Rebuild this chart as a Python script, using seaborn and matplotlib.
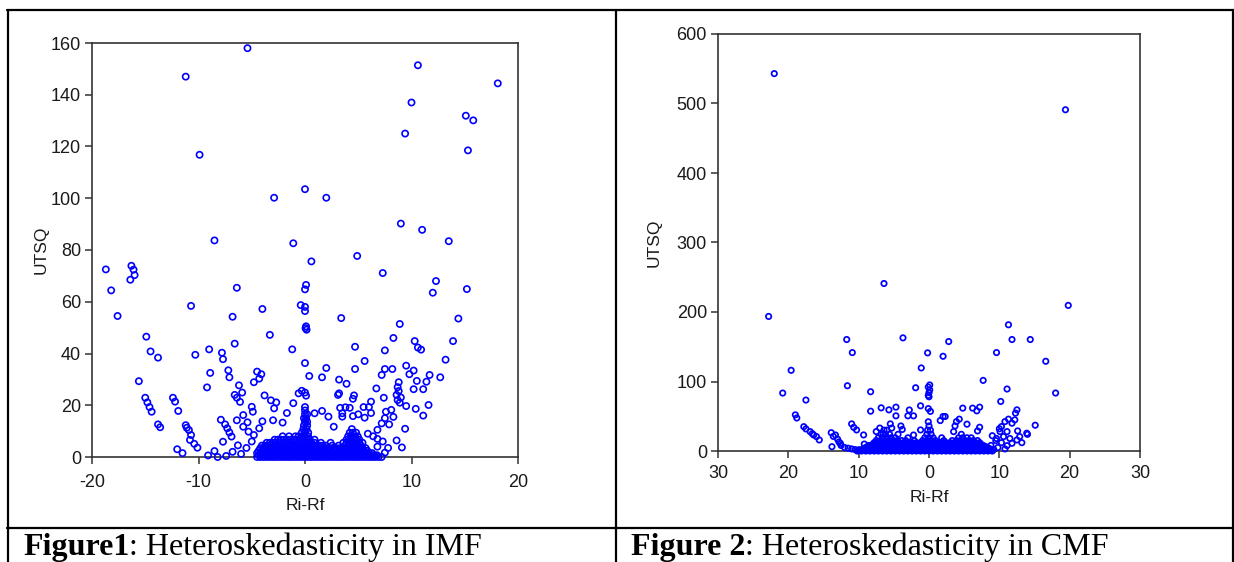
import matplotlib
matplotlib.use("Agg")
import matplotlib.pyplot as plt
from matplotlib.lines import Line2D
from matplotlib.ticker import FuncFormatter
import seaborn as sns

# ─── Data ─────────────────────────────────────────────────────────────────────
# Figure 1 (IMF): scattered points
imf_points = [
    (-5.4, 158.0), (-11.2, 147.0), (10.6, 151.4), (18.1, 144.4), (10.0, 137.0),
    (15.1, 131.9), (15.8, 130.1), (9.4, 125.0), (15.3, 118.5), (-9.9, 116.8),
    (0.0, 103.5), (-2.9, 100.2), (2.0, 100.2), (9.0, 90.2), (11.0, 87.8),
    (-8.5, 83.7), (-1.1, 82.6), (13.5, 83.4), (0.6, 75.6), (4.9, 77.7),
    (7.3, 71.1), (-18.7, 72.5), (-16.3, 73.9), (-16.1, 72.4), (-16.0, 70.3),
    (-16.4, 68.5), (-18.2, 64.4), (12.3, 68.0), (12.0, 63.5), (15.2, 64.9),
    (-6.4, 65.4), (0.1, 66.5), (0.0, 64.8), (-17.6, 54.5), (-10.7, 58.4),
    (-6.8, 54.2), (-4.0, 57.2), (-0.4, 58.7), (0.0, 58.0), (0.0, 56.4),
    (0.1, 50.5), (0.05, 49.8), (0.15, 49.2), (3.4, 53.7), (8.9, 51.4),
    (14.4, 53.5), (-14.9, 46.5), (-3.3, 47.2), (-6.6, 43.8), (8.3, 46.0),
    (10.3, 44.8), (13.9, 44.8), (4.7, 42.6), (7.5, 41.2), (10.6, 42.3),
    (10.9, 41.5), (-14.5, 40.8), (-9.0, 41.6), (-7.8, 40.3), (-1.2, 41.6),
    (-10.3, 39.5), (-13.8, 38.4), (-7.7, 37.8),
    (-15.6, 29.3), (-8.9, 32.5), (-7.2, 33.5), (-7.1, 30.8), (-9.2, 26.9),
    (-4.5, 33.0), (-4.1, 32.0), (-4.3, 30.3), (-4.8, 28.9), (-6.2, 27.7),
    (-5.9, 24.9), (-6.6, 24.0), (-6.4, 22.9), (-6.1, 21.3), (-3.8, 23.8),
    (-15.0, 22.9), (-14.8, 21.1), (-14.6, 19.3), (-14.4, 17.5), (-12.4, 22.9),
    (-12.2, 21.4), (-11.9, 17.8), (-13.8, 12.6), (-13.6, 11.5), (-11.2, 12.3),
    (-11.1, 11.3), (-10.9, 10.4), (-10.7, 8.5), (-10.8, 6.6), (-10.4, 5.1),
    (-10.1, 3.6), (-12.0, 3.0), (-11.5, 1.5), (-7.9, 14.4), (-7.5, 12.6),
    (-7.3, 11.1), (-7.1, 9.5), (-6.9, 7.9), (-7.7, 5.9), (-8.5, 2.3),
    (-9.1, 0.6), (-8.2, 0.0), (-7.4, 0.4), (-6.4, 14.2), (-5.8, 16.2),
    (-5.0, 19.4), (-4.9, 17.5), (-5.4, 13.4), (-5.8, 11.7), (-3.2, 21.9),
    (-2.7, 21.1), (-2.9, 18.8), (-3.0, 14.2), (-4.0, 13.8), (-4.3, 11.1),
    (-1.7, 17.0), (-1.1, 20.8), (-2.1, 13.3), (-0.6, 24.6),
    (0.0, 36.3), (5.6, 37.1), (13.2, 37.6), (2.0, 34.4), (4.7, 34.0),
    (7.5, 34.0), (8.2, 34.0), (9.5, 35.3), (10.2, 33.4), (9.8, 32.0),
    (0.4, 31.3), (1.6, 30.8), (3.2, 29.9), (3.9, 28.3), (7.2, 31.7),
    (10.5, 29.4), (11.4, 29.1), (11.7, 31.7), (12.7, 30.8), (8.8, 28.9),
    (6.7, 26.5), (8.7, 27.0), (8.8, 25.5), (8.6, 24.0), (9.0, 23.0),
    (8.7, 22.0), (8.9, 21.0), (10.2, 26.2), (11.1, 26.2), (-0.3, 25.6),
    (0.0, 24.9), (0.1, 23.7), (3.1, 24.0), (3.2, 24.6), (4.6, 23.8),
    (4.5, 22.5), (7.4, 22.9), (9.5, 19.7), (10.4, 18.6), (11.6, 20.1),
    (0.0, 19.3), (0.9, 16.9), (1.6, 17.8), (2.2, 15.6), (3.3, 19.0),
    (3.8, 19.2), (4.2, 19.0), (3.5, 16.9), (3.5, 15.6), (5.5, 19.3),
    (6.0, 19.3), (6.2, 21.4), (4.5, 15.8), (5.0, 16.5), (5.6, 15.2),
    (6.2, 17.0), (7.6, 17.5), (8.1, 18.2), (8.3, 15.5), (7.5, 15.0),
    (7.2, 13.0), (7.9, 12.6), (9.4, 10.9), (11.1, 16.0), (2.7, 11.7),
    (8.6, 6.4), (9.1, 3.7), (6.8, 4.0), (6.8, 7.0), (7.5, 1.7),
    (-5.0, 6.0), (-5.5, 3.5), (-6.0, 1.2), (-4.8, 8.5), (-5.3, 9.8),
    (-6.3, 4.5), (-6.8, 2.0), (5.9, 9.0), (6.4, 8.0), (6.8, 10.5),
    (7.3, 6.0), (7.8, 3.5), (6.5, 0.5),
]

# Figure 1 (IMF): solid cluster near the origin, row by row {UTSQ: [Ri-Rf, ...]}
imf_rows = {
    0.0: [-4.5, -4.2, -3.9, -3.6, -3.3, -3.0, -2.7, -2.4, -2.1, -1.8, -1.5,
          -1.2, -0.9, -0.6, -0.3, 0.0, 0.3, 0.6, 0.9, 1.2, 1.5, 1.8, 2.1, 2.4,
          2.7, 3.0, 3.3, 3.6, 3.9, 4.2, 4.5, 4.8, 5.1, 5.4, 5.7, 6.0, 6.3, 6.6,
          6.9, 7.2],
    0.7: [-4.35, -4.05, -3.75, -3.45, -3.15, -2.85, -2.55, -2.25, -1.95, -1.65,
          -1.35, -1.05, -0.75, -0.45, -0.15, 0.15, 0.45, 0.75, 1.05, 1.35, 1.65,
          1.95, 2.25, 2.55, 2.85, 3.15, 3.45, 3.75, 4.05, 4.35, 4.65, 4.95,
          5.25, 5.55, 5.85, 6.15, 6.45, 6.75],
    1.5: [-4.5, -4.2, -3.9, -3.6, -3.3, -3.0, -2.7, -2.4, -2.1, -1.8, -1.5,
          -1.2, -0.9, -0.6, -0.3, 0.0, 0.3, 0.6, 0.9, 1.2, 1.5, 1.8, 2.1, 2.4,
          2.7, 3.0, 3.3, 3.6, 3.9, 4.2, 4.5, 4.8, 5.1, 5.4, 5.7, 6.0, 6.3],
    2.4: [-4.35, -4.05, -3.75, -3.45, -3.15, -2.85, -2.55, -2.25, -1.95, -1.65,
          -1.35, -1.05, -0.75, -0.45, -0.15, 0.15, 0.45, 0.75, 1.05, 1.35, 1.65,
          1.95, 2.25, 2.55, 2.85, 3.15, 3.45, 3.75, 4.05, 4.35, 4.65, 4.95,
          5.25, 5.55, 5.85],
    3.4: [-4.2, -3.9, -3.6, -3.3, -3.0, -2.7, -2.4, -2.1, -1.8, -1.5, -1.2,
          -0.9, -0.6, -0.3, 0.0, 0.3, 0.6, 0.9, 1.2, 1.5, 1.8, 2.1, 2.4, 2.7,
          3.0, 3.3, 3.6, 3.9, 4.2, 4.5, 4.8, 5.1, 5.4, 5.7],
    4.4: [-4.05, -3.75, -3.45, -3.15, -2.85, -2.55, -2.25, -1.95, -1.65, -1.35,
          -1.05, -0.75, -0.45, -0.15, 0.15, 0.45, 0.75, 1.05, 1.35, 1.65, 1.95,
          2.55, 3.15, 3.75, 4.05, 4.35, 4.65, 4.95, 5.25],
    5.5: [-3.6, -3.3, -3.0, -2.7, -2.4, -2.1, -1.8, -1.5, -1.2, -0.9, -0.6,
          -0.3, 0.0, 0.3, 0.6, 0.9, 1.5, 2.4, 3.6, 3.9, 4.2, 4.5, 4.8, 5.1, 5.4],
    6.7: [-2.85, -2.55, -2.25, -1.95, -1.65, -1.35, -1.05, -0.75, -0.45, -0.15,
          0.15, 0.45, 0.9, 3.9, 4.2, 4.5, 4.8, 5.1],
    8.0: [-2.1, -1.5, -0.9, -0.6, -0.3, 0.0, 0.3, 4.05, 4.35, 4.65, 4.95],
    9.4: [-0.3, 0.0, 0.3, 4.2, 4.5, 4.8],
    10.8: [-0.15, 0.15, 4.4],
    12.2: [-0.1, 0.2],
    13.6: [0.0, 0.2],
    15.0: [-0.1, 0.1],
    16.5: [0.0, 0.2],
    18.0: [0.0],
}

# Figure 2 (CMF): scattered points
cmf_points = [
    (-22.0, 543.0), (19.4, 491.0), (-6.4, 241.0), (-22.8, 193.6), (19.8, 209.5),
    (11.3, 181.6), (-11.7, 160.4), (-3.7, 162.8), (2.8, 157.5), (11.8, 160.4),
    (14.4, 160.4), (-10.9, 141.6), (-0.2, 141.2), (2.0, 136.3), (9.6, 141.6),
    (16.6, 129.1), (-19.6, 116.1), (-1.1, 119.5), (7.7, 101.6), (-20.8, 83.4),
    (-11.6, 93.9), (-8.3, 85.3), (-1.9, 91.0), (11.1, 89.2), (18.0, 83.4),
    (-17.5, 73.3), (10.2, 71.3), (-0.1, 80.0), (0.0, 84.0), (0.1, 88.0),
    (-0.1, 92.0), (0.1, 95.0), (0.0, 78.0),
    (-8.3, 57.3), (-6.8, 62.1), (-5.7, 59.2), (-4.7, 63.1), (-4.7, 50.6),
    (-2.8, 59.0), (-3.0, 50.6), (-2.2, 50.6), (-1.2, 65.0), (-0.1, 61.0),
    (0.2, 57.0), (-5.5, 39.0), (-5.3, 33.0), (-4.0, 36.0), (-3.8, 31.0),
    (-1.2, 30.3), (-2.2, 23.0), (-7.5, 28.0), (-7.0, 33.0), (-6.5, 25.0),
    (-6.0, 30.0),
    (-19.0, 52.0), (-18.8, 47.5), (-17.8, 35.0), (-17.5, 31.8), (-16.9, 27.9),
    (-16.6, 25.0), (-16.4, 23.1), (-16.0, 20.7), (-15.6, 15.9), (-13.9, 26.4),
    (-13.6, 21.0), (-13.3, 23.0), (-13.0, 17.0), (-12.8, 13.0), (-12.6, 11.0),
    (-13.8, 6.2), (-12.5, 8.0), (-12.0, 5.0), (-11.5, 4.0), (-11.0, 3.0),
    (-10.5, 2.0), (-10.0, 1.5), (-9.5, 2.0), (-11.0, 39.0), (-10.7, 34.0),
    (-10.3, 30.3), (-9.3, 23.1), (-9.2, 10.0), (-9.0, 5.0), (-8.6, 8.0),
    (1.6, 43.8), (2.0, 49.6), (2.3, 49.6), (3.9, 42.3), (4.3, 45.8),
    (3.7, 36.1), (3.5, 27.9), (4.8, 61.7), (5.4, 38.6), (6.2, 61.7),
    (7.2, 63.1), (6.8, 57.8), (7.2, 34.2), (6.9, 28.9), (12.5, 59.2),
    (12.3, 54.5), (15.1, 37.1), (13.9, 25.6), (12.9, 20.7), (12.5, 15.9),
    (12.6, 28.9), (10.3, 35.1), (10.8, 42.3), (11.3, 45.8), (11.8, 40.0),
    (12.2, 44.8), (11.1, 27.9), (10.6, 20.7), (10.1, 27.9), (11.1, 7.7),
    (11.8, 11.1), (9.0, 22.0), (9.5, 15.0), (8.8, 8.0), (9.8, 5.0),
    (10.3, 12.0), (9.2, 2.0), (8.5, 3.0), (10.8, 3.0), (11.5, 18.0),
    (13.2, 12.0), (14.0, 24.0), (10.0, 32.0), (9.6, 18.0),
]

# Figure 2 (CMF): solid cluster near the origin, row by row
cmf_rows = {
    0: [-10.2, -9.6, -9.0, -8.4, -7.8, -7.2, -6.6, -6.0, -5.4, -4.8, -4.2,
        -3.6, -3.0, -2.4, -1.8, -1.2, -0.6, 0.0, 0.6, 1.2, 1.8, 2.4, 3.0, 3.6,
        4.2, 4.8, 5.4, 6.0, 6.6, 7.2, 7.8, 8.4, 9.0],
    1.5: [-9.9, -9.3, -8.7, -8.1, -7.5, -6.9, -6.3, -5.7, -5.1, -4.5, -3.9,
          -3.3, -2.7, -2.1, -1.5, -0.9, -0.3, 0.3, 0.9, 1.5, 2.1, 2.7, 3.3,
          3.9, 4.5, 5.1, 5.7, 6.3, 6.9, 7.5, 8.1, 8.7],
    3: [-9.3, -8.7, -8.1, -7.5, -6.9, -6.3, -5.7, -5.1, -4.5, -3.9, -3.3,
        -2.7, -2.1, -1.5, -0.9, -0.3, 0.3, 0.9, 1.5, 2.1, 2.7, 3.3, 3.9, 4.5,
        5.1, 5.7, 6.3, 6.9, 7.5, 8.1, 8.7],
    4.5: [-9.0, -8.4, -7.8, -7.2, -6.6, -6.0, -5.4, -4.8, -4.2, -3.6, -3.0,
          -2.4, -1.8, -1.2, -0.6, 0.0, 0.6, 1.2, 1.8, 2.4, 3.0, 3.6, 4.2, 4.8,
          5.4, 6.0, 6.6, 7.2, 7.8, 8.4],
    6: [-8.7, -8.1, -7.5, -6.9, -6.3, -5.7, -5.1, -4.5, -3.9, -3.3, -2.7,
        -2.1, -1.5, -0.9, -0.3, 0.3, 0.9, 1.5, 2.1, 2.7, 3.3, 3.9, 4.5, 5.1,
        5.7, 6.3, 6.9, 7.5, 8.1],
    7.5: [-8.4, -7.8, -7.2, -6.6, -6.0, -5.4, -4.8, -4.2, -3.6, -3.0, -2.4,
          -1.8, -1.2, -0.6, 0.0, 0.6, 1.2, 1.8, 2.4, 3.0, 3.6, 4.2, 4.8, 5.4,
          6.0, 6.6, 7.2, 7.8],
    9: [-8.1, -7.5, -6.9, -6.3, -5.7, -5.1, -4.5, -3.9, -3.3, -2.7, -2.1,
        -1.5, -0.9, -0.3, 0.3, 0.9, 1.5, 2.1, 2.7, 3.3, 3.9, 4.5, 5.1, 5.7,
        6.3, 6.9, 7.5],
    10.5: [-7.8, -7.2, -6.6, -6.0, -5.4, -4.8, -4.2, -3.6, -3.0, -2.4, -1.8,
           -1.2, -0.6, 0.0, 0.6, 1.2, 1.8, 2.4, 3.0, 3.6, 4.2, 4.8, 5.4, 6.0,
           6.6, 7.2],
    12: [-7.8, -7.2, -6.6, -6.0, -5.4, -4.8, -4.2, -3.6, -3.0, -2.4, -1.8,
         -1.2, -0.6, 0.0, 0.6, 1.2, 1.8, 2.4, 3.0, 3.6, 4.2, 4.8, 5.4, 6.0,
         6.6, 7.2],
    15: [-7.5, -6.9, -6.3, -5.7, -5.1, -4.5, -3.9, -3.3, -2.1, -0.9, -0.3,
         0.3, 0.9, 2.1, 3.3, 3.9, 4.5, 5.1, 5.7, 6.3, 6.9],
    19: [-7.2, -6.6, -6.0, -5.4, -4.8, -3.0, -0.6, 0.0, 0.6, 1.8, 4.2, 4.8,
         5.4, 6.0],
    24: [-6.8, -6.2, -5.6, -4.4, -0.3, 0.3, 4.6],
    30: [-6.4, -0.2, 0.2],
    36: [0.0],
    42: [-0.1],
}

X_LABEL = "Ri-Rf"
Y_LABEL = "UTSQ"
CAPTIONS = [("Figure1", ": Heteroskedasticity in IMF"),
            ("Figure 2", ": Heteroskedasticity in CMF")]

# ─── Style ────────────────────────────────────────────────────────────────────
BLUE = "#0000ff"
INK = "#1a1a1a"
W, H = 1234, 562

sns.set_theme(style="white")
plt.rcParams["font.family"] = ["Liberation Sans", "DejaVu Sans"]
plt.rcParams["axes.unicode_minus"] = False


def unpack(points, rows):
    xs = [p[0] for p in points]
    ys = [p[1] for p in points]
    for yv, row in rows.items():
        xs.extend(row)
        ys.extend([yv] * len(row))
    return xs, ys


def fx(px):
    return px / W


def fy(py):
    return 1 - py / H


def style_axes(ax, xlim, ylim, ticks_x, ticks_y, xpad):
    ax.set_xlim(*xlim)
    ax.set_ylim(*ylim)
    ax.set_xticks(ticks_x)
    ax.set_yticks(ticks_y)
    for sp in ax.spines.values():
        sp.set_visible(True)
        sp.set_color("#333333")
        sp.set_linewidth(1.2)
    ax.tick_params(axis="both", which="both", direction="out", length=5,
                   width=1.1, color="#333333", labelsize=13,
                   labelcolor=INK, bottom=True, left=True, top=False,
                   right=False, pad=3)
    ax.tick_params(axis="x", pad=xpad)
    ax.set_xlabel(X_LABEL, fontsize=12.5, color=INK)
    ax.set_ylabel(Y_LABEL, fontsize=12.5, color=INK)
    ax.grid(False)


fig = plt.figure(figsize=(W / 100, H / 100), dpi=100)
fig.patch.set_facecolor("white")

# ── Left panel: IMF ───────────────────────────────────────────────────────────
ax1 = fig.add_axes([fx(92), fy(457), fx(518 - 92), (457 - 43) / H])
x1, y1 = unpack(imf_points, imf_rows)
sns.scatterplot(x=x1, y=y1, ax=ax1, marker="o", s=20, facecolors="none",
                edgecolor=BLUE, linewidth=1.2, clip_on=False, zorder=3)
style_axes(ax1, (-20, 20), (0, 160), [-20, -10, 0, 10, 20],
           range(0, 161, 20), xpad=7)
ax1.xaxis.set_label_coords(0.5, -(498 - 457) / (457 - 43))
ax1.yaxis.set_label_coords(-(92 - 49) / (518 - 92), 0.5)

# ── Right panel: CMF ──────────────────────────────────────────────────────────
ax2 = fig.add_axes([fx(718), fy(451), fx(1140 - 718), (451 - 34) / H])
x2, y2 = unpack(cmf_points, cmf_rows)
sns.scatterplot(x=x2, y=y2, ax=ax2, marker="o", s=15, facecolors="none",
                edgecolor=BLUE, linewidth=1.25, clip_on=False, zorder=3)
style_axes(ax2, (-30, 30), (0, 600), [-30, -20, -10, 0, 10, 20, 30],
           range(0, 601, 100), xpad=5)
ax2.xaxis.set_major_formatter(FuncFormatter(lambda v, p: f"{abs(v):g}"))
ax2.xaxis.set_label_coords(0.5, -(490 - 451) / (451 - 34))
ax2.yaxis.set_label_coords(-(718 - 662) / (1140 - 718), 0.5)

# ── Table rules ───────────────────────────────────────────────────────────────
rule = dict(color="black", linewidth=1.6, transform=fig.transFigure)
fig.add_artist(Line2D([fx(7), fx(1234)], [fy(9.5), fy(9.5)], **rule))
fig.add_artist(Line2D([fx(7), fx(1234)], [fy(528), fy(528)], **rule))
for px in (7.5, 616, 1233):
    fig.add_artist(Line2D([fx(px), fx(px)], [fy(9.5), fy(562)], **rule))

# ── Captions (bold figure number + regular text) ─────────────────────────────
fig.canvas.draw()
renderer = fig.canvas.get_renderer()
for (bold, rest), px in zip(CAPTIONS, (23, 631)):
    t = fig.text(fx(px), fy(554.5), bold, fontsize=23, fontweight="bold",
                 family="Liberation Serif", color="black", va="baseline")
    bb = t.get_window_extent(renderer)
    fig.text(bb.x1 / W, fy(554.5), rest, fontsize=23,
             family="Liberation Serif", color="black", va="baseline")

fig.savefig("out.png", dpi=100, facecolor="white")
